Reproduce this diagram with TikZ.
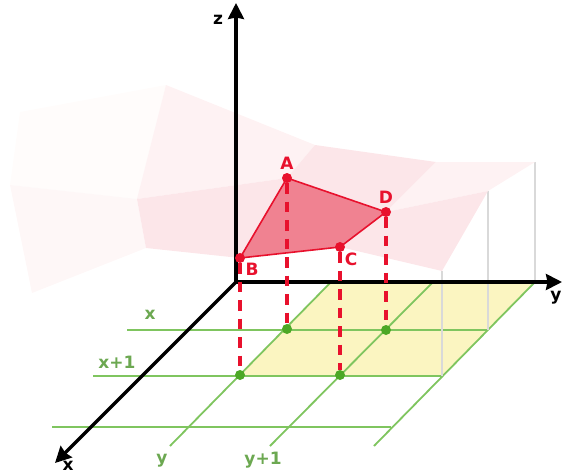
\documentclass[tikz,border=0pt]{standalone}
\usepackage{fontspec}
\setmainfont{DejaVu Sans}
\usepackage{xcolor}
\usetikzlibrary{arrows.meta}
\definecolor{gridgreen}{HTML}{7FC55F}
\definecolor{dotgreen}{HTML}{4CA826}
\definecolor{planeyellow}{HTML}{FBF5C1}
\definecolor{pinkred}{HTML}{E8112D}
\definecolor{facered}{HTML}{F08291}
\definecolor{facea}{HTML}{FFFCFB}
\definecolor{faceb}{HTML}{FEF7F7}
\definecolor{facec}{HTML}{FEF2F3}
\definecolor{faced}{HTML}{FCE6E9}
\definecolor{stemgray}{HTML}{D9D9D9}
\tikzset{
    axisline/.style={line width=3.2pt, -{Stealth[length=16pt,width=16pt,inset=1.5pt]}},
    gridline/.style={gridgreen, line width=1.8pt},
    stemline/.style={stemgray, line width=1.3pt},
    dropline/.style={pinkred, line width=3.2pt, dash pattern=on 10.5pt off 8pt},
    reddot/.style={circle, fill=pinkred, inner sep=0pt, minimum size=10pt},
    greendot/.style={circle, fill=dotgreen, inner sep=0pt, minimum size=10pt},
    redlabel/.style={text=pinkred, font=\fontsize{17}{19}\selectfont\bfseries, inner sep=0pt},
    greenlabel/.style={text=gridgreen!85!black, font=\fontsize{17}{19}\selectfont\bfseries, inner sep=0pt},
    axislabel/.style={text=black, font=\fontsize{17}{19}\selectfont\bfseries, inner sep=0pt}
}
\begin{document}
\begin{tikzpicture}[x=1pt, y=-1pt]
    \useasboundingbox (0, 0) rectangle (562, 474);
    % -------------------------
    % Surface points
    % -------------------------
    \coordinate (s00) at (20, 112);
    \coordinate (s01) at (166, 85);
    \coordinate (s02) at (315, 145);
    \coordinate (s03) at (436, 162);
    \coordinate (s04) at (535, 162);
    \coordinate (s10) at (10, 185);
    \coordinate (s11) at (137, 199);
    \coordinate (s14) at (488, 191);
    \coordinate (s20) at (32, 293);
    \coordinate (s21) at (146, 248);
    \coordinate (s24) at (442, 271);
    % Axes
    \coordinate (origin) at (236, 282);
    \coordinate (ztip) at (236, 3);
    \coordinate (ytip) at (562, 282);
    \coordinate (xtip) at (55, 463);
    % -------------------------
    % Yellow plane
    % -------------------------
    \coordinate (p1) at (331, 282);
    \coordinate (p2) at (535, 282);
    \coordinate (p3) at (442, 376);
    \coordinate (p4) at (240, 376);
    \fill[planeyellow] (p1) -- (p2) -- (p3) -- (p4) -- cycle;
    % -------------------------
    % Green dots and grid
    % -------------------------
    \coordinate (xl) at (127, 330);
    \coordinate (xr) at (488, 330);
    \coordinate (xal) at (93, 376);
    \coordinate (xar) at (442, 376);
    \coordinate (xbl) at (52, 427);
    \coordinate (xbr) at (391, 427);
    \coordinate (ya) at (170, 446);
    \coordinate (yb) at (270, 446);
    \coordinate (yc) at (374, 446);
    \coordinate (yt) at (433, 282);
    \draw[gridline] (xl) -- (xr);
    \draw[gridline] (xal) -- (xar);
    \draw[gridline] (xbl) -- (xbr);
    \draw[gridline] (p1) -- (ya);
    \draw[gridline] (yt) -- (yb);
    \draw[gridline] (p2) -- (yc);
    % Gray stems
    \draw[stemline] (s24) -- (xar);
    \draw[stemline] (s14) -- (xr);
    \draw[stemline] (s04) -- (p2);
    % -------------------------
    % Pale surface
    % -------------------------
    \coordinate (A) at (287, 178);
    \coordinate (B) at (240, 258);
    \coordinate (C) at (340, 247);
    \coordinate (D) at (386, 212);
    \fill[facea] (s00) -- (s01) -- (s11) -- (s10) -- cycle;
    \fill[facec] (s01) -- (s02) -- (A) -- (s11) -- cycle;
    \fill[faced] (s02) -- (s03) -- (D) -- (A) -- cycle;
    \fill[facec] (s03) -- (s04) -- (s14) -- (D) -- cycle;
    \fill[faceb] (s10) -- (s11) -- (s21) -- (s20) -- cycle;
    \fill[faced] (s11) -- (A) -- (B) -- (s21) -- cycle;
    \fill[faced] (D) -- (s14) -- (s24) -- (C) -- cycle;
    % -------------------------
    % Axes
    % -------------------------
    \draw[axisline] (origin) -- (ztip);
    \draw[axisline] (origin) -- (ytip);
    \draw[axisline] (origin) -- (xtip);
    % -------------------------
    % Red patch
    % -------------------------
    \fill[facered] (A) -- (D) -- (C) -- (B) -- cycle;
    \draw[pinkred, line width=1.6pt] (A) -- (D) -- (C) -- (B) -- cycle;
    \node[greendot] (a0) at (287, 329) {};
    \node[greendot] (d0) at (386, 330) {};
    \node[greendot] (b0) at (240, 375) {};
    \node[greendot] (c0) at (340, 375) {};
    \node[reddot] (dotA) at (A) {};
    \node[reddot] (dotB) at (B) {};
    \node[reddot] (dotC) at (C) {};
    \node[reddot] (dotD) at (D) {};
    \draw[dropline] (dotB) -- (b0);
    \draw[dropline] (dotA) -- (a0);
    \draw[dropline] (dotC) -- (c0);
    \draw[dropline] (dotD) -- (d0);
    % -------------------------
    % Labels
    % -------------------------
    \node[redlabel] (labA) at (287, 163) {A};
    \node[redlabel] (labB) at (252, 269) {B};
    \node[redlabel] (labC) at (351, 259) {C};
    \node[redlabel] (labD) at (386, 197) {D};
    \node[axislabel] (labz) at (218, 20) {z};
    \node[axislabel] (laby) at (556, 298) {y};
    \node[axislabel] (labx) at (68, 466) {x};
    \node[greenlabel] (labgx) at (150, 315) {x};
    \node[greenlabel] (labgxa) at (117, 362) {x+1};
    \node[greenlabel] (labgy) at (162, 461) {y};
    \node[greenlabel] (labgya) at (263, 460) {y+1};
\end{tikzpicture}
\end{document}
